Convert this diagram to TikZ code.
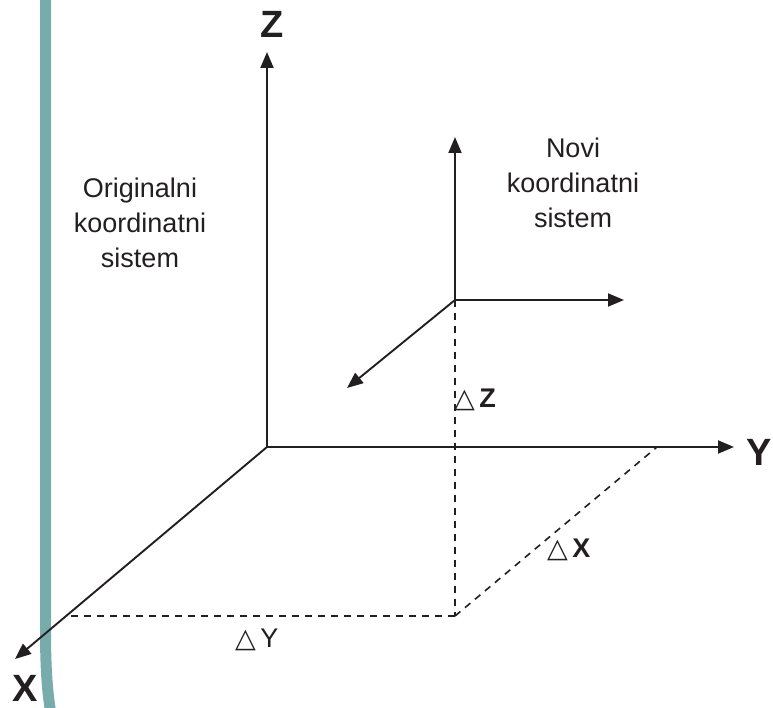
\documentclass[tikz,border=0pt]{standalone}
\usepackage{fontspec}
\setmainfont{Liberation Sans}
\newfontfamily\symfont{DejaVu Sans}
\usetikzlibrary{arrows.meta}
\definecolor{ink}{HTML}{231F20}
\definecolor{teal}{HTML}{78ACAC}
\tikzset{
  axis/.style={draw=ink, line width=1.9pt, -{Triangle[length=16pt,width=13pt]}},
  guide/.style={draw=ink, line width=1.6pt, dash pattern=on 7pt off 6pt},
  big/.style={font=\fontsize{38}{38}\selectfont\bfseries, text=ink, inner sep=0pt},
  lbl/.style={font=\fontsize{27}{35}\selectfont, text=ink, align=center, inner sep=0pt},
  dlt/.style={font=\fontsize{27}{27}\selectfont, text=ink, inner sep=0pt, anchor=base west},
}
\begin{document}
\begin{tikzpicture}[x=1pt,y=-1pt]
\useasboundingbox (0,0) rectangle (773,708);
% teal bar
\draw[teal, line width=11pt] (45.5,-10) -- (45.5,630) .. controls (45.5,675) and (48,698) .. (52,720);
% coordinates
\coordinate (O) at (267,447);
\coordinate (Zt) at (267,52);
\coordinate (Yt) at (734,447);
\coordinate (Xt) at (15,659);
\coordinate (N) at (455,300);
\coordinate (Nz) at (455,137);
\coordinate (Ny) at (624,300);
\coordinate (Nx) at (347,388);
\coordinate (F) at (455,616);
\coordinate (G) at (67,616);
\coordinate (H) at (657,447);
% dashed guides
\draw[guide] (N) -- (F);
\draw[guide] (F) -- (G);
\draw[guide] (F) -- (H);
% main axes
\draw[axis] (O) -- (Zt);
\draw[axis] (O) -- (Yt);
\draw[axis] (O) -- (Xt);
% new axes
\draw[axis] (N) -- (Nz);
\draw[axis] (N) -- (Ny);
\draw[axis] (N) -- (Nx);
% axis labels
\node[big] (lz) at (272,24) {Z};
\node[big] (ly) at (759,452) {Y};
\node[big] (lx) at (25,688) {X};
% texts
\node[lbl, anchor=base] (orig) at (140,268) {Originalni\\koordinatni\\sistem};
\node[lbl, anchor=base] (novi) at (573,228) {Novi\\koordinatni\\sistem};
% deltas
\node[dlt] (dz) at (454,407) {{\symfont △}\,\textbf{Z}};
\node[dlt] (dx) at (547,557) {{\symfont △}\,\textbf{X}};
\node[dlt] (dy) at (235,647) {{\symfont △}\,Y};
\end{tikzpicture}
\end{document}
